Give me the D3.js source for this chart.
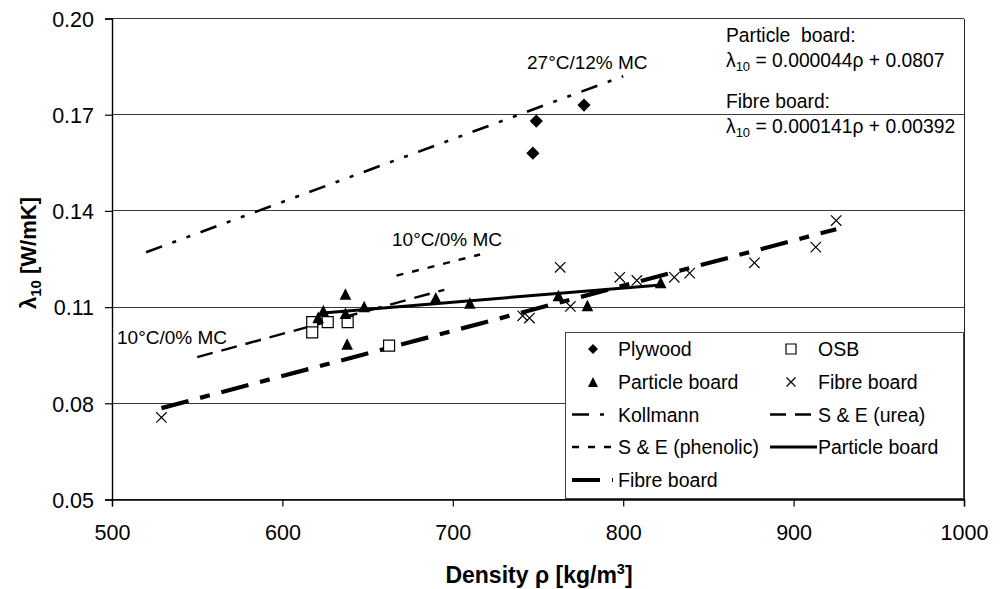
<!DOCTYPE html>
<html>
<head>
<meta charset="utf-8">
<script src="https://cdn.jsdelivr.net/npm/d3@7"></script>
<style>
  html, body { margin: 0; padding: 0; background: #fff; }
  svg { display: block; font-family: "Liberation Sans", Arial, sans-serif; }
</style>
</head>
<body>
<svg id="chart" width="1004" height="589"></svg>
<script>
// ---------- data ----------
const xTicks = [500, 600, 700, 800, 900, 1000];
const yTicks = [0.05, 0.08, 0.11, 0.14, 0.17, 0.20];

const plywoodRho = [749, 747, 777];
const plywoodLam = [0.168, 0.158, 0.173];

const osbRho = [617.5, 617.5, 626.6, 638.3, 662.6];
const osbLam = [0.1053, 0.1021, 0.1053, 0.1053, 0.098];

const particleRho = [621, 624, 637, 637, 638, 648, 690, 710, 762, 779, 822];
const particleLam = [0.1068, 0.1089, 0.1141, 0.1081, 0.0985, 0.1102, 0.1129, 0.1113, 0.1136, 0.1105, 0.1177];

const fibreRho = [529, 741, 745, 763, 769, 798, 808, 830, 839, 877, 913, 925];
const fibreLam = [0.0756, 0.1073, 0.1066, 0.1224, 0.1102, 0.1193, 0.1183, 0.1193, 0.1206, 0.1238, 0.1287, 0.137];

const kollmannRho = [520, 800];
const kollmannLam = [0.1271, 0.182];
const ureaRho = [550, 695];
const ureaLam = [0.0944, 0.1154];
const phenolicRho = [667, 716];
const phenolicLam = [0.1198, 0.1264];
const particleFitRho = [622, 822];
const particleFitLam = [0.1081, 0.1169];
const fibreFitRho = [529, 925];
const fibreFitLam = [0.0785, 0.1343];

// ---------- layout ----------
const svg = d3.select("#chart");
const pL = 112, pR = 964, pT = 18.5, pB = 499.5;
const x = d3.scaleLinear().domain([500, 1000]).range([pL, pR]);
const y = d3.scaleLinear().domain([0.05, 0.20]).range([pB, pT]);
const FONT = '"Liberation Sans", Arial, sans-serif';

// grid lines
svg.append("g").selectAll("line").data(yTicks).join("line")
  .attr("x1", pL).attr("x2", pR)
  .attr("y1", d => y(d)).attr("y2", d => y(d))
  .attr("stroke", "#3a3a3a").attr("stroke-width", 1)
  .attr("shape-rendering", "crispEdges");
// right border
svg.append("line").attr("x1", pR).attr("x2", pR).attr("y1", pT).attr("y2", pB)
  .attr("stroke", "#222").attr("stroke-width", 1).attr("shape-rendering", "crispEdges");

// axes
const xAxis = svg.append("g").attr("transform", `translate(0,${pB})`)
  .call(d3.axisBottom(x).tickValues(xTicks).tickSize(7).tickPadding(18).tickFormat(d3.format("d")));
const yAxis = svg.append("g").attr("transform", `translate(${pL},0)`)
  .call(d3.axisLeft(y).tickValues(yTicks).tickSize(7).tickPadding(11).tickFormat(d3.format(".2f")));
[xAxis, yAxis].forEach(g => {
  g.select(".domain").attr("stroke", "#000").attr("stroke-width", 1.4);
  g.selectAll(".tick line").attr("stroke", "#000").attr("stroke-width", 1.2);
  g.selectAll(".tick text").attr("fill", "#000").attr("font-family", FONT).attr("font-size", 21.5);
});
yAxis.selectAll(".tick text").attr("dy", "0.36em");

// axis titles
const xt = svg.append("text").attr("x", 539).attr("y", 582.5).attr("text-anchor", "middle")
  .attr("font-weight", "bold").attr("font-size", 23).attr("font-family", FONT);
xt.append("tspan").text("Density ρ [kg/m");
xt.append("tspan").text("3").attr("font-size", 14.5).attr("dy", -9);
xt.append("tspan").text("]").attr("dy", 9);

const yt = svg.append("text").attr("transform", "translate(36,253) rotate(-90)")
  .attr("text-anchor", "middle").attr("font-weight", "bold").attr("font-size", 22).attr("font-family", FONT);
yt.append("tspan").text("λ");
yt.append("tspan").text("10").attr("font-size", 15).attr("dy", 5);
yt.append("tspan").text(" [W/mK]").attr("dy", -5);

// ---------- lines ----------
const zip = (a, b) => a.map((v, i) => [v, b[i]]);
const line = d3.line().x(d => x(d[0])).y(d => y(d[1]));
const lineStyles = {
  kollmann: { w: 2.6, dash: "17,11,4,11,4,11" },
  urea: { w: 2.4, dash: "16,9" },
  phenolic: { w: 2.4, dash: "7,9" },
  particle: { w: 3, dash: null },
  fibre: { w: 4.2, dash: "28,12,10,12" }
};
function drawLine(rho, lam, st) {
  svg.append("path").datum(zip(rho, lam)).attr("d", line)
    .attr("fill", "none").attr("stroke", "#000").attr("stroke-width", st.w)
    .attr("stroke-dasharray", st.dash);
}
drawLine(kollmannRho, kollmannLam, lineStyles.kollmann);
drawLine(ureaRho, ureaLam, lineStyles.urea);
drawLine(phenolicRho, phenolicLam, lineStyles.phenolic);
drawLine(fibreFitRho, fibreFitLam, lineStyles.fibre);
drawLine(particleFitRho, particleFitLam, lineStyles.particle);

// ---------- markers ----------
const sym = {
  diamond: s => `M0,${-s}L${s},0L0,${s}L${-s},0Z`,
  square: s => `M${-s},${-s}H${s}V${s}H${-s}Z`,
  triangle: s => `M0,${-s}L${s},${s}L${-s},${s}Z`,
  cross: s => `M${-s},${-s}L${s},${s}M${s},${-s}L${-s},${s}`
};
function drawMarker(g, kind, cx, cy, s) {
  const p = g.append("path").attr("transform", `translate(${cx},${cy})`).attr("d", sym[kind](s));
  if (kind === "square") p.attr("fill", "#fff").attr("stroke", "#000").attr("stroke-width", 1.2);
  else if (kind === "cross") p.attr("fill", "none").attr("stroke", "#000").attr("stroke-width", 1.2);
  else p.attr("fill", "#000");
}
const mg = svg.append("g");
zip(osbRho, osbLam).forEach(d => drawMarker(mg, "square", x(d[0]), y(d[1]), 5.5));
zip(particleRho, particleLam).forEach(d => drawMarker(mg, "triangle", x(d[0]), y(d[1]), 5.8));
zip(plywoodRho, plywoodLam).forEach(d => drawMarker(mg, "diamond", x(d[0]), y(d[1]), 6.6));
zip(fibreRho, fibreLam).forEach(d => drawMarker(mg, "cross", x(d[0]), y(d[1]), 5.2));

// ---------- annotations ----------
function label(tx, ty, str, size) {
  return svg.append("text").attr("x", tx).attr("y", ty).attr("font-size", size || 19)
    .attr("font-family", FONT).attr("fill", "#000").style("white-space", "pre").text(str);
}
label(527, 69, "27°C/12% MC");
label(392, 246, "10°C/0% MC");
label(117, 344, "10°C/0% MC");
label(726, 42, "Particle  board:", 19.3);
function eqn(tx, ty, rest) {
  const t = svg.append("text").attr("x", tx).attr("y", ty).attr("font-size", 19.3)
    .attr("font-family", FONT).attr("fill", "#000");
  t.append("tspan").text("λ");
  t.append("tspan").text("10").attr("font-size", 13).attr("dy", 4);
  t.append("tspan").text(rest).attr("dy", -4);
}
eqn(726, 67, " = 0.000044ρ + 0.0807");
label(726, 108, "Fibre board:", 19.3);
eqn(726, 133, " = 0.000141ρ + 0.00392");

// ---------- legend ----------
const lg = svg.append("g");
lg.append("rect").attr("x", 565).attr("y", 332).attr("width", 398).attr("height", 166)
  .attr("fill", "#fff").attr("stroke", "#444").attr("stroke-width", 1).attr("shape-rendering", "crispEdges");
const rowsY = [349, 382, 414.5, 447, 480];
const legendItems = [
  { t: "Plywood", m: "diamond", col: 0, row: 0 },
  { t: "OSB", m: "square", col: 1, row: 0 },
  { t: "Particle board", m: "triangle", col: 0, row: 1 },
  { t: "Fibre board", m: "cross", col: 1, row: 1 },
  { t: "Kollmann", l: "kollmann", col: 0, row: 2 },
  { t: "S & E (urea)", l: "urea", col: 1, row: 2 },
  { t: "S & E (phenolic)", l: "phenolic", col: 0, row: 3 },
  { t: "Particle board", l: "particle", col: 1, row: 3 },
  { t: "Fibre board", l: "fibre", col: 0, row: 4 }
];
const colX = [572, 770], colTextX = [618, 818];
legendItems.forEach(it => {
  const yy = rowsY[it.row];
  const x0 = colX[it.col];
  if (it.m) {
    const sz = { diamond: 5, square: 5, triangle: 5, cross: 4.5 }[it.m];
    drawMarker(lg, it.m, x0 + 21, yy, sz);
  } else {
    const st = lineStyles[it.l];
    lg.append("line").attr("x1", x0).attr("x2", x0 + (it.col === 0 ? 41 : 47)).attr("y1", yy).attr("y2", yy)
      .attr("stroke", "#000").attr("stroke-width", st.w).attr("stroke-dasharray", st.dash);
  }
  lg.append("text").attr("x", colTextX[it.col]).attr("y", yy + 7).attr("font-size", 19.5)
    .attr("font-family", FONT).attr("fill", "#000").text(it.t);
});
</script>
</body>
</html>
